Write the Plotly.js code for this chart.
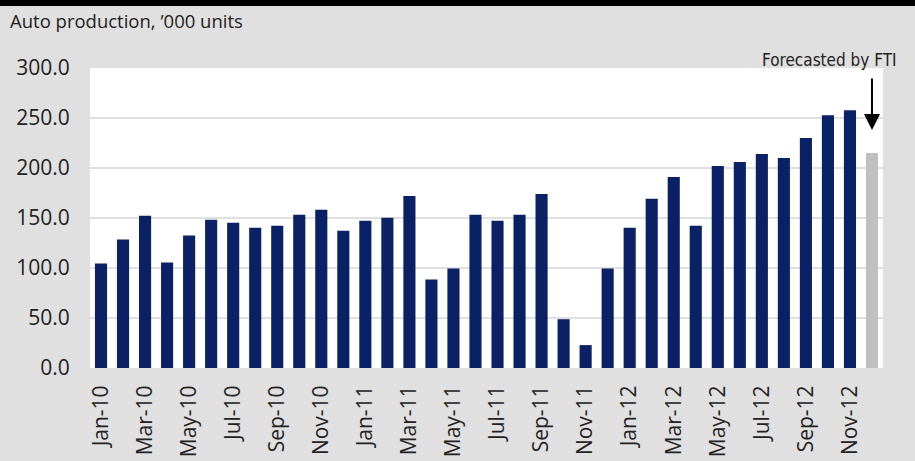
<!DOCTYPE html>
<html>
<head>
<meta charset="utf-8">
<script src="https://cdn.plot.ly/plotly-3.0.1.min.js"></script>
<style>
  body { margin: 0; background: #e0e0e0; }
  #plot { width: 915px; height: 461px; }
</style>
</head>
<body>
<div id="plot"></div>
<script>
var months = ['Jan-10', 'Feb-10', 'Mar-10', 'Apr-10', 'May-10', 'Jun-10', 'Jul-10', 'Aug-10', 'Sep-10', 'Oct-10', 'Nov-10', 'Dec-10',
              'Jan-11', 'Feb-11', 'Mar-11', 'Apr-11', 'May-11', 'Jun-11', 'Jul-11', 'Aug-11', 'Sep-11', 'Oct-11', 'Nov-11', 'Dec-11',
              'Jan-12', 'Feb-12', 'Mar-12', 'Apr-12', 'May-12', 'Jun-12', 'Jul-12', 'Aug-12', 'Sep-12', 'Oct-12', 'Nov-12', 'Dec-12'];

var production = [104.5, 128.4, 152.3, 105.5, 132.4, 148.3, 145.3, 140.3, 142.3, 153.2, 158.2, 137.3,
                  147.3, 150.2, 172.1, 88.6, 99.5, 153.2, 147.3, 153.2, 174.1, 48.8, 22.9, 99.5,
                  140.3, 169.2, 191.1, 142.3, 202.0, 206.0, 214.0, 210.0, 230.0, 252.7, 257.7, 215.0];

// last month is the FTI forecast
var forecastFrom = 'Dec-12';

var tickMonths = months.filter(function (m, i) { return i % 2 === 0; });

var colors = months.map(function (m) {
    return m === forecastFrom ? '#c0c0c0' : '#0a2166';
});

var trace = {
    x: months,
    y: production,
    type: 'bar',
    marker: { color: colors },
    hoverinfo: 'x+y'
};

var layout = {
    width: 915,
    height: 461,
    margin: { l: 90, r: 32, t: 68, b: 93 },
    paper_bgcolor: '#e0e0e0',
    plot_bgcolor: '#ffffff',
    font: { family: 'Open Sans, sans-serif', color: '#222222' },
    showlegend: false,
    bargap: 0.45,
    title: {
        text: 'Auto production, ’000 units',
        font: { size: 18.5, color: '#222222' },
        xref: 'container',
        x: 10 / 915,
        xanchor: 'left',
        y: 1 - 22 / 461,
        yanchor: 'middle'
    },
    xaxis: {
        type: 'category',
        tickvals: tickMonths,
        ticktext: tickMonths,
        tickangle: -90,
        tickfont: { size: 21 },
        ticks: 'outside',
        ticklen: 8,
        tickcolor: 'rgba(0,0,0,0)',
        showgrid: false,
        showline: false,
        zeroline: false
    },
    yaxis: {
        range: [0, 300],
        tickvals: [0, 50, 100, 150, 200, 250, 300],
        tickformat: '.1f',
        tickfont: { size: 21 },
        ticks: 'outside',
        ticklen: 15,
        tickcolor: 'rgba(0,0,0,0)',
        showgrid: true,
        gridcolor: '#e0e0e0',
        gridwidth: 2,
        zeroline: false,
        showline: false
    },
    shapes: [{
        type: 'rect',
        xref: 'paper', yref: 'paper',
        x0: -90 / 793, x1: 1 + 32 / 793,
        y0: (368 - 6) / 300, y1: 368 / 300 + 0.01,
        fillcolor: '#000000',
        line: { width: 0 }
    }],
    annotations: [{
        xref: 'paper', yref: 'paper',
        x: (829 - 90) / 793,
        y: (368 - 60) / 300,
        xanchor: 'center', yanchor: 'middle',
        text: 'Forecasted by FTI',
        showarrow: false,
        font: { family: 'Liberation Sans Narrow, DejaVu Sans Condensed, sans-serif', size: 17, color: '#222222' }
    }, {
        x: forecastFrom,
        y: 238,
        xref: 'x', yref: 'y',
        text: '',
        showarrow: true,
        ax: 0,
        ay: -53,
        arrowhead: 2,
        arrowsize: 1.6,
        arrowwidth: 2,
        arrowcolor: '#000000'
    }]
};

var plotElement = document.getElementById('plot');
if (plotElement) {
    Plotly.newPlot('plot', [trace], layout, { displayModeBar: false });
} else {
    console.error("No DOM element with id 'plot' exists on the page.");
}
</script>
</body>
</html>
